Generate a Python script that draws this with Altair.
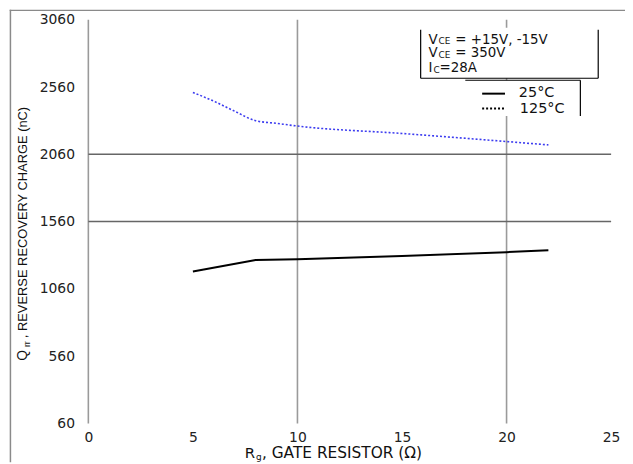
import altair as alt
import pandas as pd

# ---- data ----
rg_25 = [5, 8, 10, 15, 20, 22]
q_25 = [1190, 1275, 1280, 1305, 1333, 1348]

rg_125 = [5, 6, 7, 8, 9, 10, 15, 20, 22]
q_125 = [2520, 2455, 2380, 2310, 2290, 2270, 2215, 2155, 2130]

x_ticks = [0, 5, 10, 15, 20, 25]
y_ticks = [60, 560, 1060, 1560, 2060, 2560, 3060]
v_grid = [0, 10, 20]
h_grid = [1560, 2060]

annot_lines = ["= +15V, -15V", "= 350V", "=28A"]
legend_labels = ["25°C", "125°C"]

df25 = pd.DataFrame({"rg": rg_25, "q": q_25})
df125 = pd.DataFrame({"rg": rg_125, "q": q_125})
dfv = pd.DataFrame({"rg": v_grid})
dfh = pd.DataFrame({"q": h_grid})
one = pd.DataFrame({"a": [0]})

W, H = 527, 407
xs = alt.Scale(domain=[0, 25], nice=False)
ys = alt.Scale(domain=[60, 3060], nice=False, zero=False)

FONT = "DejaVu Sans"
AFONT = "Liberation Sans"

xaxis = alt.Axis(values=x_ticks, grid=False, domain=False, ticks=False, title="",
                 labelFont=FONT, labelFontSize=14, labelColor="#222", labelPadding=7,
                 labelFlush=False, format="d")
yaxis = alt.Axis(values=y_ticks, grid=False, domain=False, ticks=False, title="",
                 labelFont=FONT, labelFontSize=14, labelColor="#222", labelPadding=14,
                 format="d")

base_axes = alt.Chart(df25).mark_point(opacity=0).encode(
    x=alt.X("rg:Q", scale=xs, axis=xaxis),
    y=alt.Y("q:Q", scale=ys, axis=yaxis),
)

vgrid = alt.Chart(dfv).mark_rule(color="#9a9a9a", strokeWidth=1.6).encode(
    x=alt.X("rg:Q", scale=xs), y=alt.value(0), y2=alt.value(H)
)
hgrid = alt.Chart(dfh).mark_rule(color="#666666", strokeWidth=1.5).encode(
    y=alt.Y("q:Q", scale=ys), x=alt.value(0), x2=alt.value(W)
)

line25 = alt.Chart(df25).mark_line(color="black", strokeWidth=2).encode(
    x=alt.X("rg:Q", scale=xs), y=alt.Y("q:Q", scale=ys)
)
line125 = alt.Chart(df125).mark_line(color="#3c3cf0", strokeWidth=1.6,
                                     strokeDash=[2, 2], interpolate="monotone").encode(
    x=alt.X("rg:Q", scale=xs), y=alt.Y("q:Q", scale=ys)
)

def rect(x1, x2, y1, y2, color="white"):
    return alt.Chart(one).mark_rect(color=color).encode(
        x=alt.value(x1), x2=alt.value(x2), y=alt.value(y1), y2=alt.value(y2))

def hline(x1, x2, y, color="black", w=1.2, dash=None):
    kw = dict(color=color, strokeWidth=w)
    if dash:
        kw["strokeDash"] = dash
    return alt.Chart(one).mark_rule(**kw).encode(
        x=alt.value(x1), x2=alt.value(x2), y=alt.value(y))

def vline(x, y1, y2, color="black", w=1.2):
    return alt.Chart(one).mark_rule(color=color, strokeWidth=w).encode(
        x=alt.value(x), y=alt.value(y1), y2=alt.value(y2))

def text(t, x, y, size, align="left", font=FONT, angle=0, baseline="middle"):
    kw = dict(text=t, fontSize=size, font=font, align=align, baseline=baseline, color="#111")
    if angle:
        kw["angle"] = angle
    return alt.Chart(one).mark_text(**kw).encode(x=alt.value(x), y=alt.value(y))

# annotation box (plot coords)
ax1, ax2, ay1, ay2 = 335, 514, 8, 59
box = [rect(ax1, ax2, ay1, ay2), vline(ax1, 10, ay2), vline(ax2, 10, ay2), hline(ax1, ax2, ay2)]
tx = 343
line_y = [20, 34, 49]
annot = [
    text("V", tx, line_y[0], 13.5), text("CE", tx + 10, line_y[0] + 1.5, 9),
    text(annot_lines[0], tx + 27, line_y[0], 13.5),
    text("V", tx, line_y[1], 13.5), text("CE", tx + 10, line_y[1] + 1.5, 9),
    text(annot_lines[1], tx + 27, line_y[1], 13.5),
    text("I", tx, line_y[2], 13.5), text("C", tx + 5, line_y[2] + 1.5, 9),
    text(annot_lines[2], tx + 11, line_y[2], 13.5),
]

# legend box
lx1, lx2, ly1, ly2 = 380, 496, 61, 97
legend = [
    rect(lx1, lx2, ly1, ly2), hline(lx1, lx2, ly1), vline(lx2, ly1, ly2),
    hline(397, 420, 74.5, w=2), hline(397, 420, 89.5, w=2, dash=[2, 2]),
    text(legend_labels[0], 434, 73.5, 14.5), text(legend_labels[1], 435, 90, 14.5),
]

# outer frame: top and left edges as thin filled bars
frame = [
    rect(-79.3, -77.8, -10.2, 446, color="#8a8a8a"),
    rect(-79.3, 545, -10.2, -8.7, color="#8a8a8a"),
]

# axis titles
titles = [
    text("R", 168, 437, 15, align="right"),
    text("g", 169, 441, 9),
    text(", GATE RESISTOR (Ω)", 175, 437, 15.5),
    text("Q", -66, 333, 14, align="right", font=AFONT, angle=270),
    text("rr", -62, 330, 9, align="left", font=AFONT, angle=270),
    text(", REVERSE RECOVERY CHARGE (nC)", -66, 321, 13, align="left", font=AFONT, angle=270),
]

chart = alt.layer(
    base_axes, vgrid, hgrid, *box, *legend, line25, line125, *annot, *titles, *frame
).properties(
    width=W, height=H,
    padding={"left": 81, "top": 10, "right": 14, "bottom": 38},
    autosize=alt.AutoSizeParams(type="none"),
).configure_view(strokeWidth=0)

chart.save("out.html", embed_options={"renderer": "svg", "actions": False})
